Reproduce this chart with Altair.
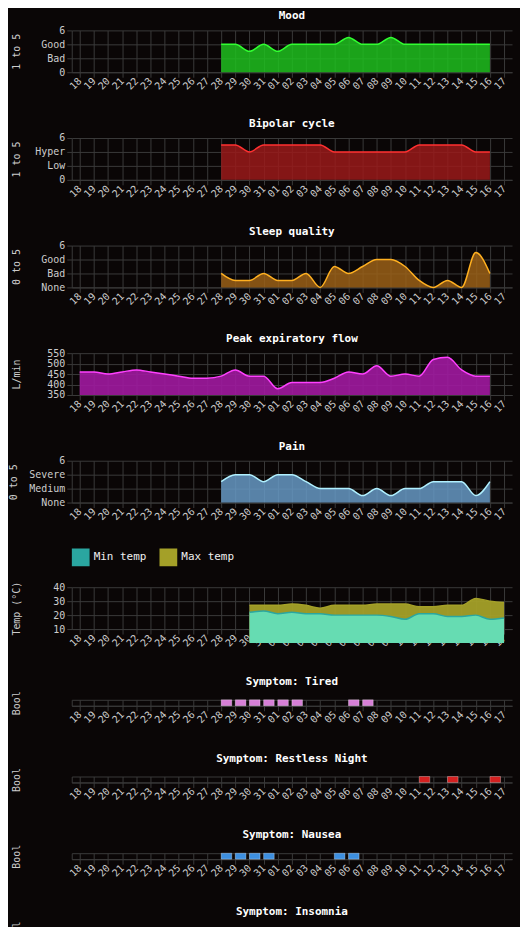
""" Health tracker dashboard """
import altair as alt
import pandas as pd

days = pd.date_range("2023-10-18", "2023-11-17", freq="D")
mood_start = "2023-10-28"
mood = [4, 4, 3, 4, 3, 4, 4, 4, 4, 5, 4, 4, 5, 4, 4, 4, 4, 4, 4, 4]
bipolar = [5, 5, 4, 5, 5, 5, 5, 5, 4, 4, 4, 4, 4, 4, 5, 5, 5, 5, 4, 4]
sleep = [2, 1, 1, 2, 1, 1, 2, 0, 3, 2, 3, 4, 4, 3, 1, 0, 1, 0, 5, 2]
pain = [3, 4, 4, 3, 4, 4, 3, 2, 2, 2, 1, 2, 1, 2, 2, 3, 3, 3, 1, 3]
flow_start = "2023-10-18"
flow = [460, 460, 450, 460, 470, 460, 450, 440, 430, 430, 440, 470, 440, 440,
        380, 410, 410, 410, 430, 460, 450, 490, 440, 450, 440, 520, 530, 470,
        440, 440]
temp_start = "2023-10-30"
temp_max = [27, 27, 27, 28, 27, 25, 27, 27, 27, 28, 28, 28, 26, 26, 27, 27, 32, 30, 29]
temp_min = [22, 23, 21, 22, 21, 21, 20, 20, 20, 20, 19, 17, 21, 21, 19, 19, 20, 17, 18]

bools = [
    ("Symptom: Tired", "#d77fd7", ["10-28", "10-29", "10-30", "10-31", "11-01", "11-02", "11-06", "11-07"]),
    ("Symptom: Restless Night", "#d42020", ["11-11", "11-13", "11-16"]),
    ("Symptom: Nausea", "#3d8fe0", ["10-28", "10-29", "10-30", "10-31", "11-05", "11-06"]),
    ("Symptom: Insomnia", "#3030c8", ["10-28", "10-29", "10-30", "10-31", "11-01", "11-02", "11-03",
                                      "11-05", "11-06", "11-07", "11-11", "11-12", "11-14"]),
    ("Symptom: Headache", "#20d040", ["10-28", "10-29", "10-30", "10-31", "11-10", "11-14"]),
    ("Event: Working", "#e0e010", ["10-28", "10-29", "10-30", "10-31", "11-02", "11-03", "11-08",
                                   "11-09", "11-10", "11-11", "11-13", "11-14", "11-15", "11-16"]),
    ("Event: Stopped Lexapro", "#e07030", ["11-10"]),
    ("Event: Cleaning", "#4040e0", ["11-12"]),
]

W = 442
tick_vals = [alt.DateTime(year=d.year, month=d.month, date=d.day) for d in days]
xax = alt.Axis(format="%d", values=tick_vals, labelAngle=-45, labelAlign="right",
               labelBaseline="middle", title=None, labelOverlap=False, labelFlush=False)
xscale = alt.Scale(domain=[tick_vals[0], tick_vals[-1]], padding=8)


def series(start, vals):
    return pd.DataFrame({"date": pd.date_range(start, periods=len(vals), freq="D"), "v": vals})


def rated_panel(title, ytitle, vals, start, fill, stroke, zero, low, high):
    label = (f"datum.value == 0 ? '{zero}' : datum.value == 2 ? '{low}' : "
             f"datum.value == 4 ? '{high}' : datum.label")
    return (alt.Chart(series(start, vals), title=title)
        .mark_area(color=fill, fillOpacity=0.85, interpolate="monotone",
                   line={"color": stroke, "strokeWidth": 1.5})
        .encode(
            x=alt.X("date:T", scale=xscale, axis=xax),
            y=alt.Y("v:Q", title=ytitle, scale=alt.Scale(domain=[0, 6]),
                    axis=alt.Axis(values=[0, 2, 4, 6], labelExpr=label))
        )
        .properties(width=W, height=42))


mood_c = rated_panel("Mood", "1 to 5", mood, mood_start, "#1ec01e", "#30ff30", "0", "Bad", "Good")
bip_c = rated_panel("Bipolar cycle", "1 to 5", bipolar, mood_start, "#9a1a1a", "#ff3030", "0", "Low", "Hyper")
sleep_c = rated_panel("Sleep quality", "0 to 5", sleep, mood_start, "#9a6018", "#ffb020", "None", "Bad", "Good")
pain_c = rated_panel("Pain", "0 to 5", pain, mood_start, "#6699c4", "#b0f0ff", "None", "Medium", "Severe")

flow_c = (alt.Chart(series(flow_start, flow), title="Peak expiratory flow")
    .mark_area(color="#a01aa0", fillOpacity=0.9, interpolate="monotone", clip=True,
               line={"color": "#ff40ff", "strokeWidth": 1.5})
    .encode(
        x=alt.X("date:T", scale=xscale, axis=xax),
        y=alt.Y("v:Q", title="L/min", scale=alt.Scale(domain=[350, 550]),
                axis=alt.Axis(values=[350, 400, 450, 500, 550]))
    )
    .properties(width=W, height=42))

tmax = series(temp_start, temp_max).assign(k="Max temp")
tmin = series(temp_start, temp_min).assign(k="Min temp")
tcolor = alt.Color("k:N", title=None,
                   scale=alt.Scale(domain=["Min temp", "Max temp"], range=["#2aa6a0", "#a4a028"]),
                   legend=alt.Legend(orient="top", direction="horizontal", symbolType="square",
                                     symbolSize=250, symbolStrokeWidth=2, labelFontSize=11,
                                     symbolOpacity=1, labelColor="#eee"))
tbase = dict(x=alt.X("date:T", scale=xscale, axis=xax),
             y=alt.Y("v:Q", title="Temp (°C)", scale=alt.Scale(domain=[10, 40]),
                     axis=alt.Axis(values=[10, 20, 30, 40])),
             color=tcolor)
temp_c = alt.layer(
    alt.Chart(tmax).mark_area(fill="#a4a028", fillOpacity=0.95, interpolate="monotone",
                              line={"color": "#f0f020", "strokeWidth": 1.5}).encode(**tbase),
    alt.Chart(tmin).mark_area(fill="#66dcb2", fillOpacity=1, interpolate="monotone",
                              line={"color": "#30f0f0", "strokeWidth": 1.5}).encode(**tbase),
).properties(width=W, height=42)

bool_charts = []
for name, col, ds in bools:
    d = pd.DataFrame({"date": pd.to_datetime(["2023-" + s for s in ds])})
    d["end"] = d["date"] + pd.Timedelta(hours=18)
    d["z"] = 0
    d["o"] = 1
    bool_charts.append(
        alt.Chart(d, title=name)
        .mark_rect(color=col, stroke="#ffffff80", strokeWidth=0.6)
        .encode(
            x=alt.X("date:T", scale=xscale, axis=xax),
            x2="end:T",
            y=alt.Y("z:Q", title="Bool", scale=alt.Scale(domain=[0, 1]),
                    axis=alt.Axis(labels=False, ticks=False, values=[0, 1])),
            y2="o:Q",
        )
        .properties(width=W, height=6)
    )

chart = (alt.vconcat(mood_c, bip_c, sleep_c, flow_c, pain_c, temp_c, *bool_charts, spacing=6)
    .resolve_legend(color="independent")
    .properties(background="#0a0606", padding={"left": 0, "top": 0, "right": 8, "bottom": 0})
    .configure_view(stroke=None)
    .configure_axis(labelColor="#cccccc", titleColor="#cccccc", gridColor="#3a3a3a",
                    domainColor="#3a3a3a", tickColor="#3a3a3a", labelFont="DejaVu Sans Mono",
                    titleFont="DejaVu Sans Mono", labelFontSize=10, titleFontSize=10,
                    titleFontWeight="normal", minExtent=40, titlePadding=10, labelPadding=2)
    .configure_title(color="#ffffff", font="DejaVu Sans Mono", fontSize=11, offset=4)
    .configure_legend(labelFont="DejaVu Sans Mono")
)

chart.save("out.html", embed_options={"renderer": "svg", "actions": False})
